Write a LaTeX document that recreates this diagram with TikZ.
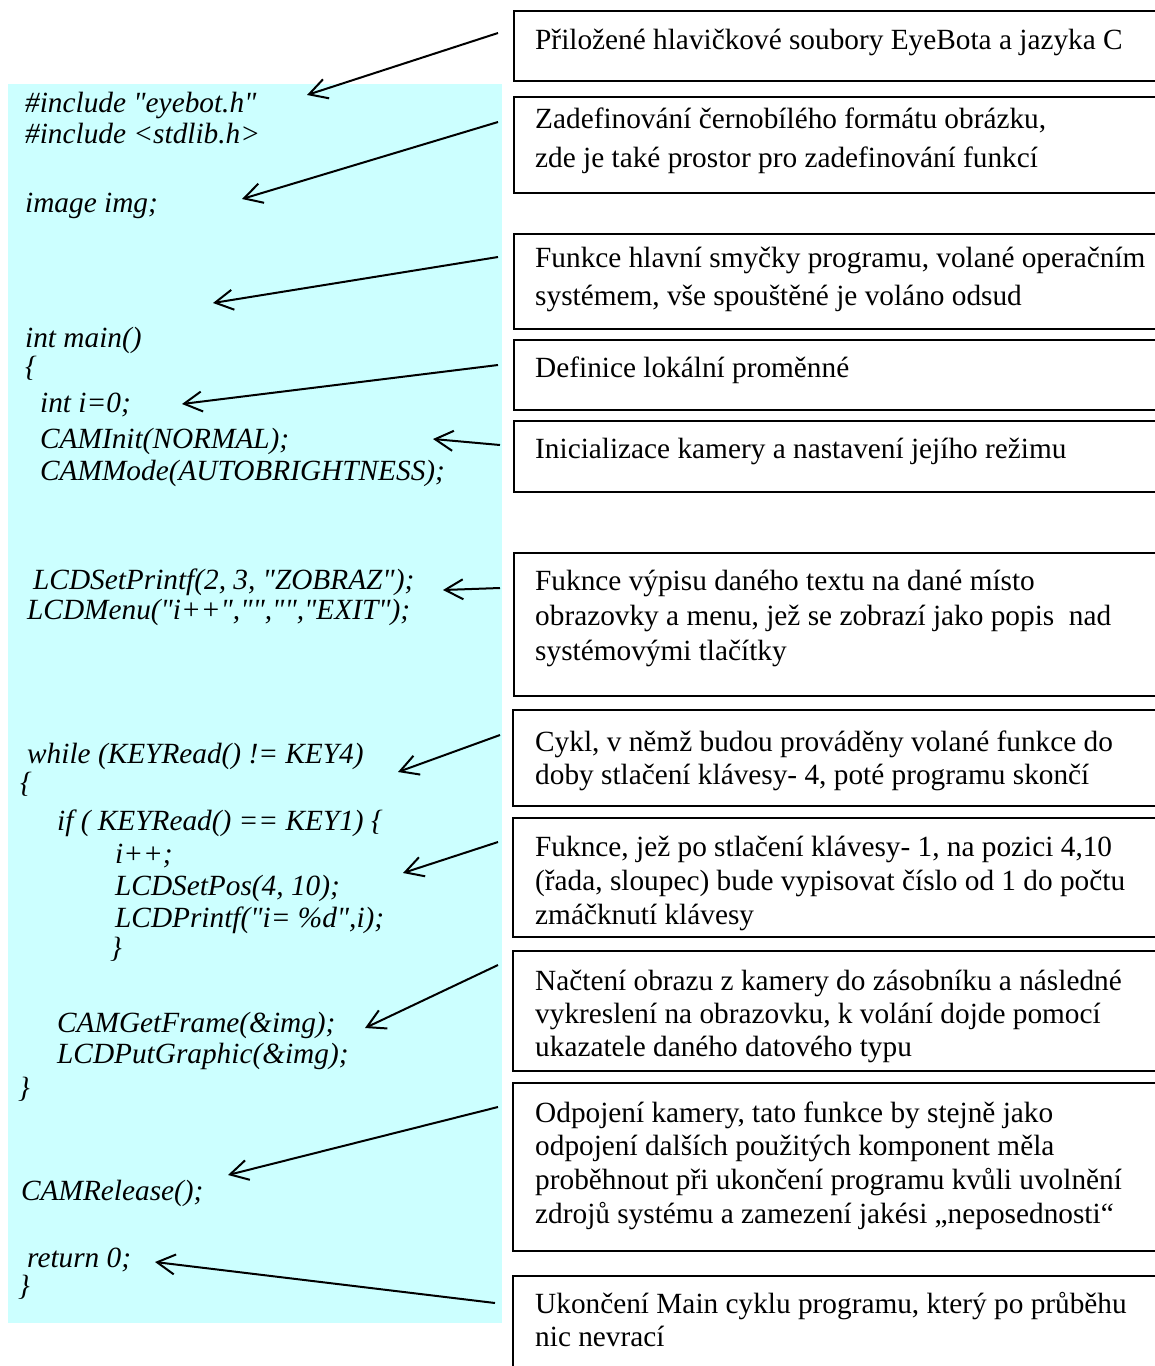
\documentclass[tikz,border=0pt]{standalone}
\usepackage{fontspec}
\setmainfont[Ligatures=TeXOff]{Liberation Serif}
\usetikzlibrary{arrows.meta,calc}
\definecolor{codebg}{RGB}{204,255,255}
\begin{document}
\begin{tikzpicture}[x=1pt,y=-1pt,
  note/.style={draw, line width=1.5pt, anchor=north west, minimum width=700pt, inner sep=0, outer sep=0},
  ntext/.style={anchor=base west, inner sep=0, font=\fontsize{29.3}{34}\selectfont},
  code/.style={anchor=base west, inner sep=0, font=\fontsize{29.3}{33}\selectfont\itshape},
  ptr/.style={line width=2pt, -{Straight Barb[length=18pt,width=20pt,line width=2pt]}}]
\useasboundingbox (0,0) rectangle (1155,1366);
\fill[white] (0,0) rectangle (1155,1366);
% code panel
\fill[codebg] (8,84) rectangle (502,1323);
\node[code] (c1) at (25,112) {\#include "eyebot.h"};
\node[code] (c2) at (25,143) {\#include <stdlib.h>};
\node[code] (c3) at (25,212) {image img;};
\node[code] (c4) at (25,347) {int main()};
\node[code] (c5) at (25,376) {\{};
\node[code] (c6) at (40,412) {int i=0;};
\node[code] (c7) at (40,448) {CAMInit(NORMAL);};
\node[code] (c8) at (40,480) {CAMMode(AUTOBRIGHTNESS);};
\node[code] (c9) at (33,589) {LCDSetPrintf(2, 3, "ZOBRAZ");};
\node[code] (c10) at (27,619) {LCDMenu("i++","","","EXIT");};
\node[code] (c11) at (27,763) {while (KEYRead() != KEY4)};
\node[code] (c12) at (20,792) {\{};
\node[code] (c13) at (57,830) {if ( KEYRead() == KEY1) \{};
\node[code] (c14) at (115,863) {i++;};
\node[code] (c15) at (115,895) {LCDSetPos(4, 10);};
\node[code] (c16) at (115,927) {LCDPrintf("i= \%d",i);};
\node[code] (c17) at (110,957) {\}};
\node[code] (c18) at (57,1032) {CAMGetFrame(\&img);};
\node[code] (c19) at (57,1063) {LCDPutGraphic(\&img);};
\node[code] (c20) at (18,1097) {\}};
\node[code] (c21) at (21,1200) {CAMRelease();};
\node[code] (c22) at (27,1267) {return 0;};
\node[code] (c23) at (18,1295) {\}};
% note boxes
\node[note, minimum height=70pt]  (b1)  at (514,11)   {};
\node[note, minimum height=96pt]  (b2)  at (514,97)   {};
\node[note, minimum height=95pt]  (b3)  at (514,234)  {};
\node[note, minimum height=70pt]  (b4)  at (514,340)  {};
\node[note, minimum height=71pt]  (b5)  at (514,421)  {};
\node[note, minimum height=143pt] (b6)  at (514,553)  {};
\node[note, minimum height=96pt]  (b7)  at (513,710)  {};
\node[note, minimum height=119pt] (b8)  at (513,818)  {};
\node[note, minimum height=120pt] (b9)  at (513,951)  {};
\node[note, minimum height=168pt] (b10) at (513,1083) {};
\node[note, minimum height=140pt] (b11) at (513,1276) {};
% note texts
\node[ntext] (t1) at (535,49) {Přiložené hlavičkové soubory EyeBota a jazyka C};
\node[ntext] (t2) at (535,128) {\parbox[t]{620pt}{\baselineskip=39pt Zadefinování černobílého formátu obrázku,\\zde je také prostor pro zadefinování funkcí}};
\node[ntext] (t3) at (535,267) {\parbox[t]{620pt}{\baselineskip=38pt Funkce hlavní smyčky programu, volané operačním\\systémem, vše spouštěné je voláno odsud}};
\node[ntext] (t4) at (535,377) {Definice lokální proměnné};
\node[ntext] (t5) at (535,458) {Inicializace kamery a nastavení jejího režimu};
\node[ntext] (t6) at (535,590) {\parbox[t]{620pt}{\baselineskip=35pt Fuknce výpisu daného textu na dané místo\\obrazovky a menu, jež se zobrazí jako popis\ \ nad\\systémovými tlačítky}};
\node[ntext] (t7) at (535,751) {\parbox[t]{620pt}{\baselineskip=33pt Cykl, v němž budou prováděny volané funkce do\\doby stlačení klávesy- 4, poté programu skončí}};
\node[ntext] (t8) at (535,856) {\parbox[t]{620pt}{\baselineskip=34pt Fuknce, jež po stlačení klávesy- 1, na pozici 4,10\\(řada, sloupec) bude vypisovat číslo od 1 do počtu\\zmáčknutí klávesy}};
\node[ntext] (t9) at (535,990) {\parbox[t]{620pt}{\baselineskip=33pt Načtení obrazu z kamery do zásobníku a následné\\vykreslení na obrazovku, k volání dojde pomocí\\ukazatele daného datového typu}};
\node[ntext] (t10) at (535,1122) {\parbox[t]{620pt}{\baselineskip=33.7pt Odpojení kamery, tato funkce by stejně jako\\odpojení dalších použitých komponent měla\\proběhnout při ukončení programu kvůli uvolnění\\zdrojů systému a zamezení jakési „neposednosti“}};
\node[ntext] (t11) at (535,1313) {\parbox[t]{620pt}{\baselineskip=33pt Ukončení Main cyklu programu, který po průběhu\\nic nevrací}};
% arrow ends
\coordinate (s1) at (498,33);   \coordinate (e1) at (307,95);
\coordinate (s2) at (498,122);  \coordinate (e2) at (242,199);
\coordinate (s3) at (498,257);  \coordinate (e3) at (213,303);
\coordinate (s4) at (498,365);  \coordinate (e4) at (182,404);
\coordinate (s5) at (500,445);  \coordinate (e5) at (433,439);
\coordinate (s6) at (500,588);  \coordinate (e6) at (443,590);
\coordinate (s7) at (500,735);  \coordinate (e7) at (398,772);
\coordinate (s8) at (498,842);  \coordinate (e8) at (403,873);
\coordinate (s9) at (498,965);  \coordinate (e9) at (365,1028);
\coordinate (s10) at (498,1107); \coordinate (e10) at (228,1175);
\coordinate (s11) at (495,1303); \coordinate (e11) at (155,1262);
\foreach \i in {1,...,11} { \draw[ptr] (s\i) -- (e\i); }
\end{tikzpicture}
\end{document}
